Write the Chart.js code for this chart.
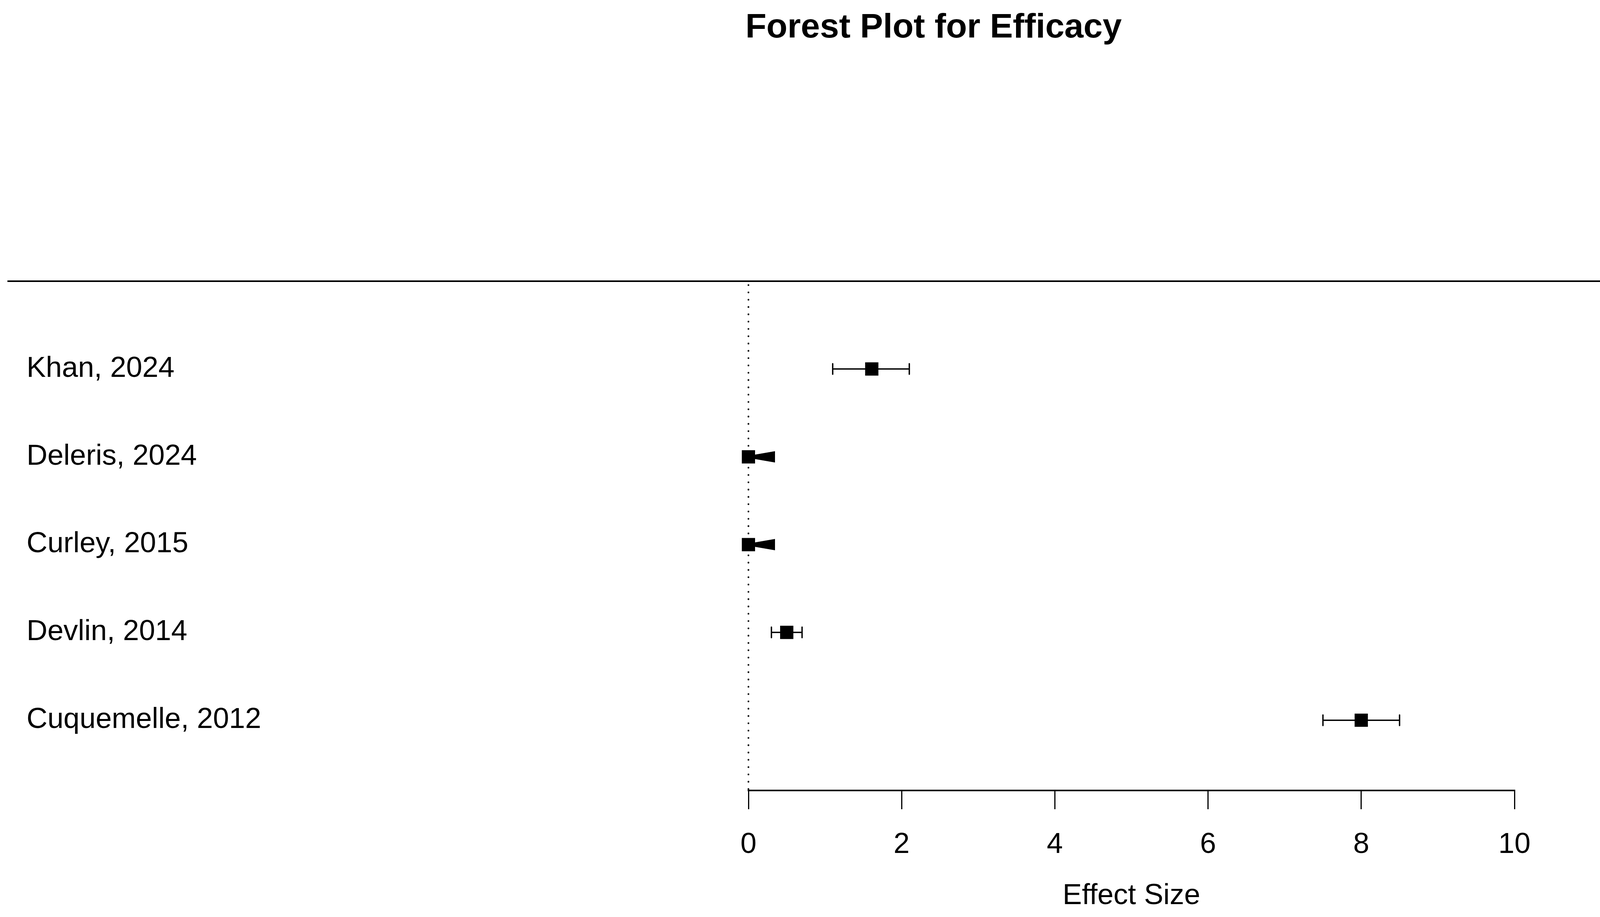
<!DOCTYPE html>
<html>
<head>
<meta charset="utf-8">
<title>Forest Plot for Efficacy</title>
<script src="https://cdn.jsdelivr.net/npm/chart.js@4.4.1/dist/chart.umd.min.js"></script>
<style>
  html, body { margin: 0; padding: 0; background: #fff; }
  #wrap { width: 4746px; height: 2348px; }
</style>
</head>
<body>
<div id="wrap"><canvas id="forest" width="4746" height="2348"></canvas></div>
<script>
// study data, top row first
const studies = ['Khan, 2024', 'Deleris, 2024', 'Curley, 2015', 'Devlin, 2014', 'Cuquemelle, 2012'];
const estimates = [1.61, 0.00, 0.00, 0.50, 8.00];
const ciLower = [1.10, 0.00, 0.00, 0.30, 7.50];
const ciUpper = [2.10, 0.00, 0.00, 0.70, 8.50];
const rowPositions = [5, 4, 3, 2, 1];
const truncatedCI = [false, true, true, false, false]; // drawn with an arrow instead of whiskers
const xTicks = [0, 2, 4, 6, 8, 10];

const FONT = '"Liberation Sans", Arial, Helvetica, sans-serif';

function fmt(v) { return v.toFixed(2); }

const forestPlugin = {
  id: 'forestExtras',
  beforeDatasetsDraw(chart) {
    const ctx = chart.ctx;
    const xs = chart.scales.x;
    const ys = chart.scales.y;
    const area = chart.chartArea;
    ctx.save();

    // title
    ctx.fillStyle = '#000';
    ctx.font = 'bold 88px ' + FONT;
    ctx.textAlign = 'center';
    ctx.textBaseline = 'alphabetic';
    ctx.fillText('Forest Plot for Efficacy', 2390, 96);

    // header rule
    ctx.strokeStyle = '#000';
    ctx.lineWidth = 4;
    ctx.beginPath();
    ctx.moveTo(19, area.top);
    ctx.lineTo(chart.width, area.top);
    ctx.stroke();

    // dotted reference line at 0
    const x0 = xs.getPixelForValue(0);
    ctx.lineWidth = 4.5;
    ctx.lineCap = 'round';
    ctx.setLineDash([0.1, 18.6]);
    ctx.beginPath();
    ctx.moveTo(x0, area.top + 10);
    ctx.lineTo(x0, area.bottom);
    ctx.stroke();
    ctx.setLineDash([]);

    // confidence intervals
    ctx.lineWidth = 3.5;
    ctx.lineCap = 'round';
    studies.forEach((s, i) => {
      const y = ys.getPixelForValue(rowPositions[i]);
      const xe = xs.getPixelForValue(estimates[i]);
      if (truncatedCI[i]) {
        ctx.beginPath();
        ctx.moveTo(xe - 16, y);
        ctx.lineTo(xe + 68, y - 14.5);
        ctx.lineTo(xe + 68, y + 14.5);
        ctx.closePath();
        ctx.fill();
        return;
      }
      const xl = xs.getPixelForValue(ciLower[i]);
      const xh = xs.getPixelForValue(ciUpper[i]);
      ctx.beginPath();
      ctx.moveTo(xl, y); ctx.lineTo(xh, y);
      ctx.moveTo(xl, y - 13.5); ctx.lineTo(xl, y + 13.5);
      ctx.moveTo(xh, y - 13.5); ctx.lineTo(xh, y + 13.5);
      ctx.stroke();
    });

    // study labels and estimate text
    ctx.font = '74px ' + FONT;
    ctx.textBaseline = 'alphabetic';
    studies.forEach((s, i) => {
      const y = ys.getPixelForValue(rowPositions[i]) + 20;
      ctx.textAlign = 'left';
      ctx.fillText(s, 68, y);
      ctx.textAlign = 'right';
      ctx.fillText(fmt(estimates[i]) + ' [' + fmt(ciLower[i]) + ', ' + fmt(ciUpper[i]) + ']', 4714, y);
    });
    ctx.restore();
  }
};

new Chart(document.getElementById('forest'), {
  type: 'scatter',
  data: {
    datasets: [{
      label: 'Estimate',
      data: estimates.map((v, i) => ({ x: v, y: rowPositions[i] })),
      pointStyle: 'rect',
      pointRadius: 24,
      pointHoverRadius: 24,
      backgroundColor: '#000',
      borderWidth: 0,
      clip: false
    }]
  },
  options: {
    responsive: false,
    devicePixelRatio: 1,
    animation: false,
    layout: { padding: { left: 1916, right: 869, top: 720, bottom: 0 } },
    plugins: {
      legend: { display: false },
      tooltip: { enabled: false },
      title: { display: false }
    },
    scales: {
      x: {
        type: 'linear',
        min: 0,
        max: 10,
        afterBuildTicks(scale) { scale.ticks = xTicks.map(v => ({ value: v })); },
        afterFit(scale) { scale.height = 324; },
        border: { display: true, color: '#000', width: 4 },
        grid: { drawOnChartArea: false, drawTicks: true, tickLength: 48, lineWidth: 3, color: '#000' },
        ticks: {
          color: '#000',
          padding: 47,
          maxRotation: 0,
          font: { family: FONT, size: 74 }
        },
        title: {
          display: true,
          text: 'Effect Size',
          color: '#000',
          font: { family: FONT, size: 74 },
          padding: { top: 0, bottom: 9 }
        }
      },
      y: {
        type: 'linear',
        min: 0.2,
        max: 6,
        display: false
      }
    }
  },
  plugins: [forestPlugin]
});
</script>
</body>
</html>
